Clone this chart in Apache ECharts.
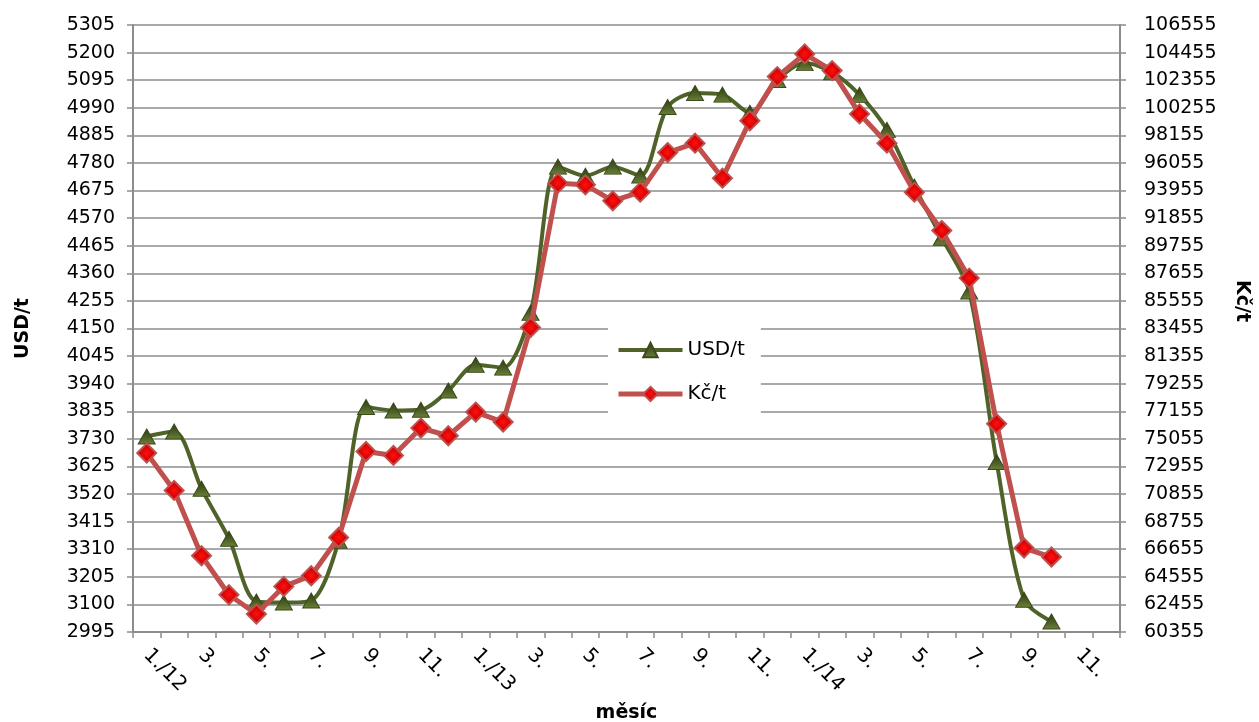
<!DOCTYPE html>
<html>
<head>
<meta charset="utf-8">
<script src="https://cdn.jsdelivr.net/npm/echarts@6/dist/echarts.min.js"></script>
<style>
html,body{margin:0;padding:0;background:#fff;}
#chart{width:1259px;height:722px;}
</style>
</head>
<body>
<div id="chart"></div>
<script>
// Categories: months 1/2012 .. 12/2014
const months = [
  '1./12','2.','3.','4.','5.','6.','7.','8.','9.','10.','11.','12.',
  '1./13','2.','3.','4.','5.','6.','7.','8.','9.','10.','11.','12.',
  '1./14','2.','3.','4.','5.','6.','7.','8.','9.','10.','11.','12.'
];
// USD per tonne (left axis)
const usdPerT = [
  3739, 3758, 3540, 3350, 3111, 3107, 3115, 3342, 3851, 3838, 3841, 3914,
  4012, 4001, 4210, 4766, 4731, 4766, 4732, 4993, 5046, 5040, 4971, 5096,
  5160, 5125, 5039, 4906, 4690, 4495, 4291, 3642, 3118, 3035
];
// CZK per tonne (right axis)
const czkPerT = [
  73975, 71129, 66160, 63193, 61725, 63825, 64639, 67553, 74096, 73792, 75877, 75291,
  77094, 76333, 83531, 94518, 94388, 93171, 93833, 96846, 97561, 94898, 99258, 102628,
  104356, 103085, 99790, 97561, 93833, 90912, 87290, 76204, 66746, 66062
];
const leftMin = 2995, leftMax = 5305, leftStep = 105;
const rightMin = 60355, rightMax = 106555, rightStep = 2100;

const FONT = 'DejaVu Sans';
const gridColor = '#8c8c8c';
const plain = v => String(Math.round(v));

const greenFill = new echarts.graphic.LinearGradient(0, 0, 0, 1, [
  {offset: 0, color: '#2e3a14'}, {offset: 0.6, color: '#4f6228'}, {offset: 1, color: '#6b8236'}
]);
const redFill = new echarts.graphic.RadialGradient(0.5, 0.5, 0.6, [
  {offset: 0, color: '#ff1010'}, {offset: 0.6, color: '#d00000'}, {offset: 1, color: '#a00000'}
]);

const chart = echarts.init(document.getElementById('chart'), null, {renderer: 'canvas'});
chart.setOption({
  animation: false,
  backgroundColor: '#ffffff',
  grid: {left: 133, right: 139, top: 25, bottom: 90, containLabel: false, outerBoundsMode: 'none'},
  legend: {
    orient: 'vertical',
    left: 608, top: 328,
    backgroundColor: '#ffffff',
    padding: [12, 16, 12, 8],
    itemGap: 24,
    itemWidth: 64, itemHeight: 18,
    textStyle: {fontFamily: FONT, fontSize: 20, color: '#000'},
    data: [
      {name: 'USD/t', lineStyle: {width: 4, color: '#4f6228'}},
      {name: 'Kč/t', lineStyle: {width: 5, color: '#c0504d'}}
    ]
  },
  xAxis: {
    type: 'category',
    data: months,
    boundaryGap: true,
    name: 'měsíc',
    nameLocation: 'middle',
    nameGap: 72,
    nameTextStyle: {fontFamily: FONT, fontSize: 19, fontWeight: 'bold', color: '#000'},
    axisLine: {lineStyle: {color: gridColor, width: 2}},
    axisTick: {show: true, interval: 0, length: 6, lineStyle: {color: gridColor, width: 1.5}},
    axisLabel: {interval: 1, rotate: -45, fontFamily: FONT, fontSize: 20, color: '#000', margin: 20},
    splitLine: {show: false}
  },
  yAxis: [
    {
      type: 'value', position: 'left',
      min: leftMin, max: leftMax, interval: leftStep,
      name: 'USD/t', nameLocation: 'middle', nameGap: 100,
      nameTextStyle: {fontFamily: FONT, fontSize: 19, fontWeight: 'bold', color: '#000'},
      axisLine: {show: true, lineStyle: {color: gridColor, width: 2}},
      axisTick: {show: true, length: 6, lineStyle: {color: gridColor, width: 1.5}},
      axisLabel: {fontFamily: FONT, fontSize: 19, color: '#000', margin: 18, formatter: plain},
      splitLine: {show: true, lineStyle: {color: gridColor, width: 1.6}}
    },
    {
      type: 'value', position: 'right',
      min: rightMin, max: rightMax, interval: rightStep,
      name: 'Kč/t', nameLocation: 'middle', nameGap: 112, nameRotate: -90,
      nameTextStyle: {fontFamily: FONT, fontSize: 19, fontWeight: 'bold', color: '#000', padding: [0, 55, 0, 0]},
      axisLine: {show: true, lineStyle: {color: gridColor, width: 2}},
      axisTick: {show: true, length: 6, lineStyle: {color: gridColor, width: 1.5}},
      axisLabel: {fontFamily: FONT, fontSize: 19, color: '#000', margin: 24, formatter: plain},
      splitLine: {show: false}
    }
  ],
  series: [
    {
      name: 'USD/t', type: 'line', yAxisIndex: 0,
      data: usdPerT,
      smooth: 0.3,
      showAllSymbol: true,
      symbol: 'triangle', symbolSize: [17, 15],
      lineStyle: {color: '#4f6228', width: 4},
      itemStyle: {color: greenFill, borderColor: '#3a4a1a', borderWidth: 1},
      z: 2
    },
    {
      name: 'Kč/t', type: 'line', yAxisIndex: 1,
      data: czkPerT,
      smooth: false,
      showAllSymbol: true,
      symbol: 'diamond', symbolSize: [19, 19],
      lineStyle: {color: '#c0504d', width: 5},
      itemStyle: {color: redFill, borderColor: '#c0504d', borderWidth: 2},
      z: 3
    }
  ]
});
</script>
</body>
</html>
